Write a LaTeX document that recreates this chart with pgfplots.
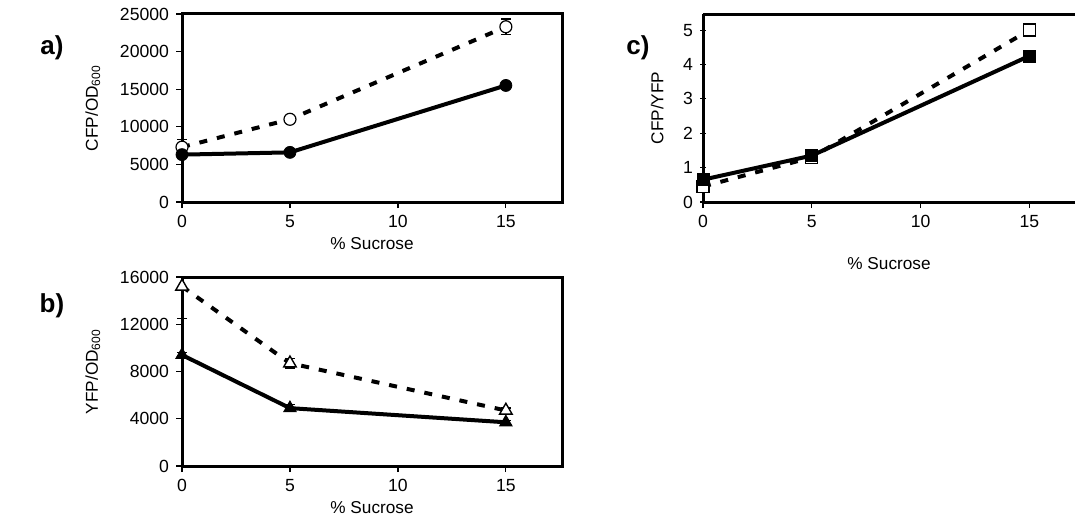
\documentclass[border=0pt]{standalone}
\usepackage{fontspec}
\setmainfont{Liberation Sans}
\usepackage{pgfplots}
\pgfplotsset{compat=1.18}

\pgfplotsset{
  panel/.style={
    scale only axis,
    anchor=south west,
    xmin=0, xmax=17.6,
    xtick={0,5,10,15},
    axis line style={line width=1.5pt},
    tick style={black, line width=0.6pt},
    tick align=outside,
    major tick length=3pt,
    xtick pos=bottom, ytick pos=left,
    ticklabel style={font=\fontsize{8.8}{10}\selectfont},
    /pgf/number format/assume math mode=true,
    /pgf/number format/set thousands separator={},
    scaled y ticks=false,
    xlabel={\% Sucrose},
    xlabel style={font=\fontsize{8.6}{10}\selectfont, yshift=2pt},
    ylabel style={font=\fontsize{8.6}{10}\selectfont, yshift=3pt},
    clip=false,
  },
  errs/.style={
    error bars/y dir=both, error bars/y explicit,
    error bars/error bar style={line width=0.8pt, solid},
    error bars/error mark options={rotate=90, mark size=2.5pt, line width=0.8pt},
  },
  solidser/.style={black, line width=2pt},
  dashser/.style={black, line width=2pt, dash pattern=on 4pt off 5pt},
}
\tikzset{panellabel/.style={font=\bfseries\fontsize{13}{15}\selectfont}}

\begin{document}
\begin{tikzpicture}
\path[use as bounding box] (0,0) rectangle (537.5pt,263pt);

% a)
\begin{axis}[panel, at={(91pt,162pt)}, width=190pt, height=94pt,
  ymin=0, ymax=25000, ytick={0,5000,10000,15000,20000,25000},
  ylabel={CFP/OD$_{\mathrm{600}}$}]
\addplot[dashser, errs, mark=*, mark size=3pt, mark options={solid, line width=0.6pt, fill=white}]
  coordinates {(0,7300) +- (0,1000) (5,11000) +- (0,300) (15,23300) +- (0,1000)};
\addplot[solidser, errs, mark=*, mark size=3pt, mark options={solid, line width=0.4pt}]
  coordinates {(0,6300) +- (0,300) (5,6600) +- (0,200) (15,15500) +- (0,400)};
\end{axis}
\node[panellabel] at (26pt,239pt) {a)};

% b)
\begin{axis}[panel, at={(91pt,30pt)}, width=190pt, height=94.5pt,
  ymin=0, ymax=16000, ytick={0,4000,8000,12000,16000},
  ylabel={YFP/OD$_{\mathrm{600}}$}]
\addplot[dashser, errs, mark=triangle*, mark size=3.6pt, mark options={solid, line width=0.7pt, fill=white}]
  coordinates {(0,15200) += (0,800) -= (0,2700) (5,8700) +- (0,400) (15,4700) +- (0,200)};
\addplot[solidser, errs, mark=triangle*, mark size=3.6pt, mark options={solid, line width=0.4pt}]
  coordinates {(0,9400) +- (0,200) (5,4900) +- (0,300) (15,3700) +- (0,150)};
\end{axis}
\node[panellabel] at (26pt,110pt) {b)};

% c)
\begin{axis}[panel, at={(351.5pt,162pt)}, width=186pt, height=94pt,
  xmax=17.1,
  axis x line=box, axis y line=left,
  x axis line style={-}, y axis line style={-},
  ymin=0, ymax=5.47, ytick={0,1,2,3,4,5},
  ylabel={CFP/YFP},
  xlabel style={font=\fontsize{8.6}{10}\selectfont, yshift=-8pt},
  ylabel style={font=\fontsize{8.6}{10}\selectfont}]
\addplot[dashser, mark=square*, mark size=3pt, mark options={solid, line width=0.7pt, fill=white}]
  coordinates {(0,0.45) (5,1.3) (15,5.0)};
\addplot[solidser, mark=square*, mark size=3pt, mark options={solid, line width=0.4pt}]
  coordinates {(0,0.65) (5,1.35) (15,4.25)};
\end{axis}
\node[panellabel] at (319pt,239pt) {c)};
\end{tikzpicture}
\end{document}
